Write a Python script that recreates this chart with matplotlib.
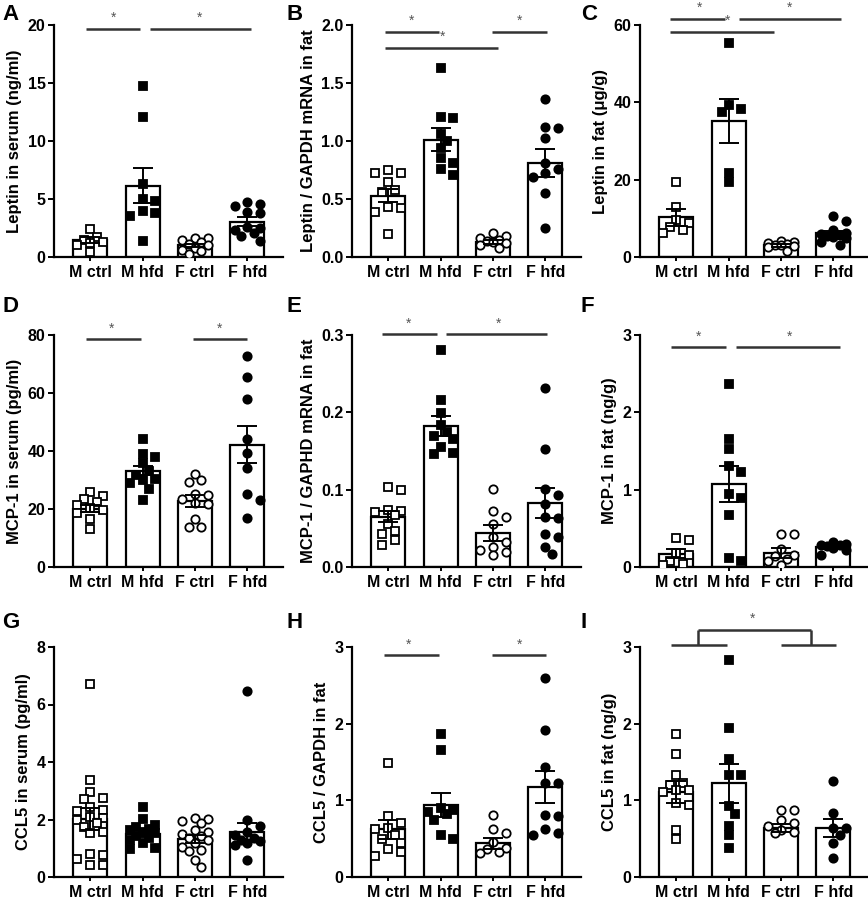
import matplotlib
matplotlib.use('Agg')
import matplotlib.pyplot as plt
import numpy as np

plt.rcParams['font.family'] = ['Liberation Sans', 'DejaVu Sans']
plt.rcParams['font.weight'] = 'bold'

groups = ['M ctrl', 'M hfd', 'F ctrl', 'F hfd']

# ---------------- data ----------------
A_mctrl = [2.4, 1.7, 1.5, 1.3, 1.2, 1.0, 0.4]
A_mhfd = [14.7, 12.1, 6.3, 5.0, 4.8, 4.0, 3.8, 3.5, 1.4]
A_fctrl = [1.6, 1.6, 1.5, 1.3, 1.1, 1.0, 0.8, 0.6, 0.5, 0.3]
A_fhfd = [4.7, 4.6, 4.4, 3.9, 3.8, 2.6, 2.5, 2.3, 2.1, 1.8, 1.4]
A_mean = [1.45, 6.15, 1.0, 3.05]
A_sem = [0.25, 1.5, 0.15, 0.4]

B_mctrl = [0.75, 0.72, 0.72, 0.65, 0.58, 0.56, 0.43, 0.42, 0.39, 0.20]
B_mhfd = [1.63, 1.21, 1.20, 1.06, 1.00, 0.94, 0.85, 0.81, 0.76, 0.71]
B_fctrl = [0.21, 0.18, 0.16, 0.15, 0.14, 0.13, 0.12, 0.10, 0.08]
B_fhfd = [1.36, 1.12, 1.11, 1.03, 0.81, 0.76, 0.72, 0.69, 0.55, 0.25]
B_mean = [0.53, 1.01, 0.13, 0.81]
B_sem = [0.06, 0.10, 0.02, 0.12]

C_mctrl = [19.3, 12.9, 9.6, 8.7, 7.8, 7.0, 6.3]
C_mhfd = [55.4, 39.3, 38.3, 37.4, 21.7, 19.3]
C_fctrl = [4.2, 3.9, 3.6, 3.4, 3.2, 3.0, 2.8, 2.5, 1.5]
C_fhfd = [10.7, 9.2, 7.0, 6.3, 6.0, 5.7, 5.5, 5.2, 4.8, 3.8, 3.2]
C_mean = [10.3, 35.2, 3.0, 6.1]
C_sem = [2.2, 5.6, 0.3, 0.7]

D_mctrl = [25.9, 24.5, 23.5, 22.5, 21.5, 20.5, 19.5, 18.5, 16.5, 13.0]
D_mhfd = [44.1, 39.1, 38.0, 35.7, 33.0, 31.6, 30.5, 29.9, 28.8, 27.0, 23.0]
D_fctrl = [32.2, 29.9, 29.3, 25.3, 24.7, 23.6, 21.9, 21.6, 16.7, 13.8, 13.8]
D_fhfd = [72.7, 65.6, 58.1, 44.1, 39.4, 34.0, 25.1, 23.2, 17.0]
D_mean = [20.1, 33.2, 22.8, 42.1]
D_sem = [1.3, 1.6, 2.0, 6.4]

E_mctrl = [0.104, 0.100, 0.074, 0.073, 0.071, 0.067, 0.056, 0.047, 0.043, 0.035, 0.029]
E_mhfd = [0.281, 0.216, 0.199, 0.184, 0.175, 0.169, 0.165, 0.155, 0.148, 0.146]
E_fctrl = [0.101, 0.073, 0.065, 0.056, 0.039, 0.032, 0.026, 0.022, 0.019, 0.015]
E_fhfd = [0.232, 0.152, 0.101, 0.093, 0.082, 0.065, 0.063, 0.043, 0.039, 0.026, 0.017]
E_mean = [0.065, 0.182, 0.044, 0.083]
E_sem = [0.007, 0.013, 0.010, 0.019]

F_mctrl = [0.37, 0.35, 0.18, 0.16, 0.08, 0.04, 0.03]
F_mhfd = [2.37, 1.65, 1.53, 1.31, 1.23, 0.94, 0.89, 0.67, 0.12, 0.08]
F_fctrl = [0.43, 0.43, 0.23, 0.16, 0.14, 0.10, 0.08, 0.03]
F_fhfd = [0.32, 0.30, 0.29, 0.28, 0.27, 0.25, 0.22, 0.16]
F_mean = [0.17, 1.07, 0.18, 0.26]
F_sem = [0.06, 0.23, 0.07, 0.02]

G_mctrl = [6.73, 3.38, 2.94, 2.75, 2.71, 2.45, 2.34, 2.28, 2.10, 2.05, 1.99, 1.87,
           1.73, 1.58, 1.53, 0.81, 0.77, 0.62, 0.43, 0.43]
G_mhfd = [2.45, 2.01, 1.82, 1.73, 1.66, 1.62, 1.58, 1.53, 1.43, 1.35, 1.29, 1.18, 1.00, 0.97]
G_fctrl = [2.05, 2.01, 1.95, 1.87, 1.64, 1.55, 1.50, 1.41, 1.35, 1.29, 1.20, 1.06,
           0.95, 0.90, 0.60, 0.34]
G_fhfd = [6.47, 1.99, 1.78, 1.58, 1.47, 1.35, 1.30, 1.24, 1.18, 1.12, 0.58]
G_mean = [2.01, 1.50, 1.32, 1.58]
G_sem = [0.38, 0.12, 0.14, 0.29]

H_mctrl = [1.49, 0.79, 0.71, 0.64, 0.62, 0.55, 0.49, 0.45, 0.36, 0.33, 0.28]
H_mhfd = [1.86, 1.66, 0.90, 0.88, 0.85, 0.82, 0.75, 0.55, 0.49]
H_fctrl = [0.81, 0.63, 0.57, 0.46, 0.38, 0.36, 0.33, 0.31]
H_fhfd = [2.59, 1.92, 1.43, 1.22, 1.22, 0.81, 0.79, 0.62, 0.57, 0.55]
H_mean = [0.62, 0.94, 0.44, 1.17]
H_sem = [0.12, 0.16, 0.07, 0.21]

I_mctrl = [1.87, 1.60, 1.33, 1.23, 1.20, 1.14, 1.13, 1.11, 0.96, 0.94, 0.61, 0.49]
I_mhfd = [2.83, 1.95, 1.54, 1.33, 1.33, 0.92, 0.82, 0.67, 0.55, 0.38]
I_fctrl = [0.88, 0.87, 0.74, 0.70, 0.66, 0.61, 0.59, 0.57]
I_fhfd = [1.25, 0.83, 0.64, 0.64, 0.55, 0.45, 0.25]
I_mean = [1.11, 1.22, 0.64, 0.64]
I_sem = [0.14, 0.25, 0.05, 0.12]

ylabels = ['Leptin in serum (ng/ml)', 'Leptin / GAPDH mRNA in fat', 'Leptin in fat (\u03bcg/g)',
           'MCP-1 in serum (pg/ml)', 'MCP-1 / GAPHD mRNA in fat', 'MCP-1 in fat (ng/g)',
           'CCL5 in serum (pg/ml)', 'CCL5 / GAPDH in fat', 'CCL5 in fat (ng/g)']
letters = ['A', 'B', 'C', 'D', 'E', 'F', 'G', 'H', 'I']
yticks = [[0, 5, 10, 15, 20], [0.0, 0.5, 1.0, 1.5, 2.0], [0, 20, 40, 60],
          [0, 20, 40, 60, 80], [0.0, 0.1, 0.2, 0.3], [0, 1, 2, 3],
          [0, 2, 4, 6, 8], [0, 1, 2, 3], [0, 1, 2, 3]]
yticklabels = [['0', '5', '10', '15', '20'], ['0.0', '0.5', '1.0', '1.5', '2.0'], ['0', '20', '40', '60'],
               ['0', '20', '40', '60', '80'], ['0.0', '0.1', '0.2', '0.3'], ['0', '1', '2', '3'],
               ['0', '2', '4', '6', '8'], ['0', '1', '2', '3'], ['0', '1', '2', '3']]

# significance lines: (x_start, x_end, y) or (x0, x1, y0, y1); stars: (x, y)
A_sig = [(-0.07, 0.96, 19.65), (1.14, 3.07, 19.65)]
A_star = [(0.44, 20.6), (2.09, 20.6)]
B_sig = [(-0.06, 0.97, 1.94), (-0.06, 2.09, 1.80), (1.99, 3.03, 1.94)]
B_star = [(0.45, 2.04), (1.03, 1.895), (2.51, 2.04)]
C_sig = [(-0.11, 0.94, 61.6), (1.20, 3.15, 61.6), (-0.11, 1.87, 58.3)]
C_star = [(0.45, 64.5), (2.16, 64.5), (0.98, 61.1)]
D_sig = [(-0.08, 0.97, 78.5), (1.97, 2.99, 78.5)]
D_star = [(0.41, 82.3), (2.47, 82.3)]
E_sig = [(-0.11, 0.94, 0.301), (1.10, 3.04, 0.301)]
E_star = [(0.39, 0.314), (2.11, 0.314)]
F_sig = [(-0.10, 0.95, 2.84), (1.15, 3.12, 2.84)]
F_star = [(0.42, 2.98), (2.16, 2.98)]
G_sig = []
G_star = []
H_sig = [(-0.07, 0.97, 2.89), (1.99, 3.01, 2.89)]
H_star = [(0.39, 3.03), (2.50, 3.03)]
I_sig = [(-0.10, 0.97, 3.03), (2.00, 3.05, 3.03),
         (0.42, 0.42, 3.03, 3.22), (2.57, 2.57, 3.03, 3.22), (0.42, 2.57, 3.22)]
I_star = [(1.45, 3.37)]

panels = [
    ([A_mctrl, A_mhfd, A_fctrl, A_fhfd], A_mean, A_sem, A_sig, A_star),
    ([B_mctrl, B_mhfd, B_fctrl, B_fhfd], B_mean, B_sem, B_sig, B_star),
    ([C_mctrl, C_mhfd, C_fctrl, C_fhfd], C_mean, C_sem, C_sig, C_star),
    ([D_mctrl, D_mhfd, D_fctrl, D_fhfd], D_mean, D_sem, D_sig, D_star),
    ([E_mctrl, E_mhfd, E_fctrl, E_fhfd], E_mean, E_sem, E_sig, E_star),
    ([F_mctrl, F_mhfd, F_fctrl, F_fhfd], F_mean, F_sem, F_sig, F_star),
    ([G_mctrl, G_mhfd, G_fctrl, G_fhfd], G_mean, G_sem, G_sig, G_star),
    ([H_mctrl, H_mhfd, H_fctrl, H_fhfd], H_mean, H_sem, H_sig, H_star),
    ([I_mctrl, I_mhfd, I_fctrl, I_fhfd], I_mean, I_sem, I_sig, I_star),
]

# ---------------- layout ----------------
W, H = 868, 900
fig = plt.figure(figsize=(W / 100, H / 100), dpi=100)
col_left = [54, 352, 640]
row_top = [25, 335, 647]
row_bot = [257, 567, 877]
ax_w = 229
XMIN, XMAX = -0.69, 3.68
spacing_px = ax_w / (XMAX - XMIN)

markers = ['s', 's', 'o', 'o']
faces = ['white', 'black', 'white', 'black']
MS_PX = 8.5


def swarm(vals, ymax, ax_h_px):
    vals = np.asarray(vals, dtype=float)
    ypx = vals / ymax * ax_h_px
    order = np.argsort(-ypx)
    xs = np.zeros(len(vals))
    placed = []
    step = MS_PX * 0.75
    cands = [0.0]
    for j in range(1, 3):
        cands += [j * step, -j * step]
    for i in order:
        best, bestd = 0.0, -1
        chosen = None
        for c in cands:
            d = min([np.hypot(c - px, ypx[i] - py) for px, py in placed] + [1e9])
            if d >= MS_PX * 1.05:
                chosen = c
                break
            if d > bestd:
                best, bestd = c, d
        if chosen is None:
            chosen = best
        placed.append((chosen, ypx[i]))
        xs[i] = chosen / spacing_px
    return xs


for k, (pts, means, sems, sig, stars) in enumerate(panels):
    r, c = divmod(k, 3)
    left = col_left[c] / W
    bottom = 1 - row_bot[r] / H
    height = (row_bot[r] - row_top[r]) / H
    ax = fig.add_axes([left, bottom, ax_w / W, height])
    ymax = yticks[k][-1]
    ax_h_px = row_bot[r] - row_top[r]
    x = np.arange(4)
    ax.bar(x, means, width=0.65, color='white', edgecolor='black', linewidth=1.6, zorder=1)
    for g in range(4):
        offs = swarm(pts[g], ymax, ax_h_px)
        ax.plot(g + offs, pts[g], linestyle='none', marker=markers[g], markersize=6.0,
                markerfacecolor=faces[g], markeredgecolor='black', markeredgewidth=1.3, zorder=3)
    ax.errorbar(x, means, yerr=sems, fmt='none', ecolor='black', elinewidth=1.4,
                capsize=7, capthick=1.4, zorder=4)
    for s in sig:
        if len(s) == 3:
            ax.plot([s[0], s[1]], [s[2], s[2]], color='#333333', linewidth=1.8,
                    clip_on=False, zorder=5, solid_capstyle='butt')
        else:
            ax.plot([s[0], s[1]], [s[2], s[3]], color='#333333', linewidth=1.8,
                    clip_on=False, zorder=5, solid_capstyle='butt')
    for sx, sy in stars:
        ax.text(sx, sy, '*', ha='center', va='center', fontsize=10, color='#555555',
                fontweight='normal', clip_on=False)
    ax.set_xlim(XMIN, XMAX)
    ax.set_ylim(0, ymax)
    ax.set_xticks(x)
    ax.set_xticklabels(groups, fontsize=11.5, fontweight='bold')
    ax.set_yticks(yticks[k])
    ax.set_yticklabels(yticklabels[k], fontsize=11.5, fontweight='bold')
    ax.set_ylabel(ylabels[k], fontsize=12, fontweight='bold', labelpad=4)
    for sp in ['top', 'right']:
        ax.spines[sp].set_visible(False)
    for sp in ['left', 'bottom']:
        ax.spines[sp].set_linewidth(1.6)
    ax.tick_params(axis='both', direction='out', width=1.4, length=4, pad=2)
    ax.tick_params(axis='x', length=3, pad=3)

# panel letters
letter_x = [2, 287, 581]
letter_y = [4, 296, 612]
for k, L in enumerate(letters):
    r, c = divmod(k, 3)
    fig.text(letter_x[c] / W, 1 - letter_y[r] / H, L, fontsize=16, fontweight='bold',
             ha='left', va='top')

fig.savefig('out.png', dpi=100)
